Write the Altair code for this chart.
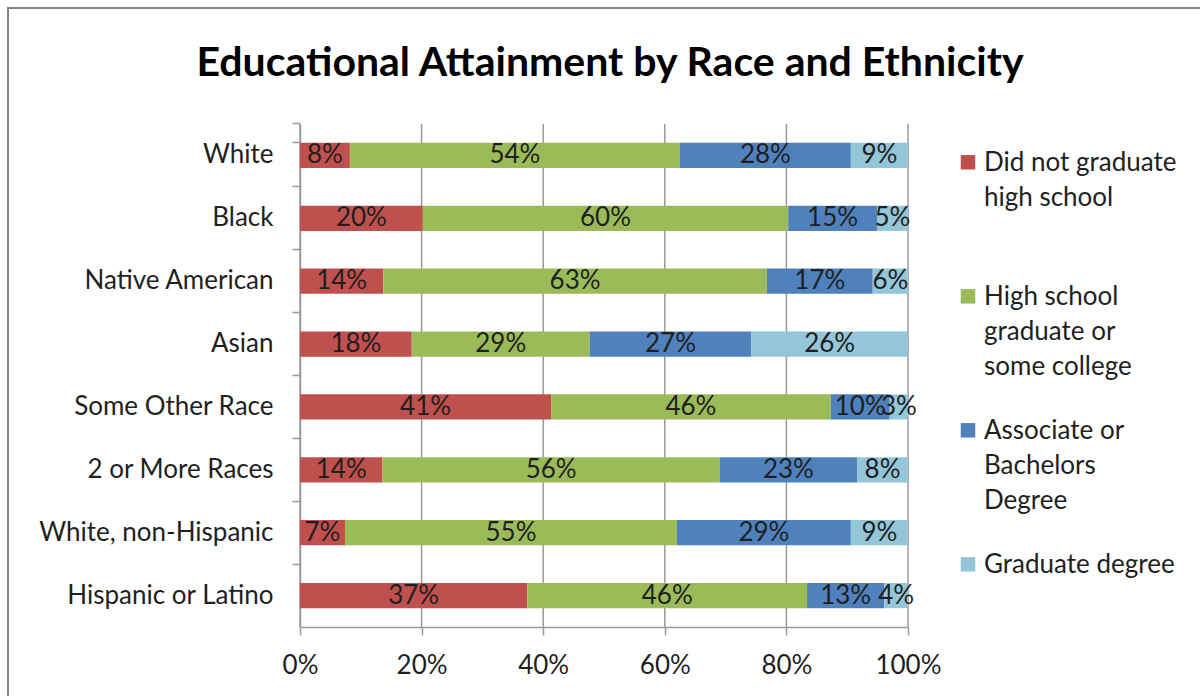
import json
import altair as alt
import pandas as pd

# ---- data ----
races = ["White", "Black", "Native American", "Asian", "Some Other Race",
         "2 or More Races", "White, non-Hispanic", "Hispanic or Latino"]
levels = ["Did not graduate high school", "High school graduate or some college",
          "Associate or Bachelors Degree", "Graduate degree"]
level_lines = [["Did not graduate", "high school"],
               ["High school", "graduate or", "some college"],
               ["Associate or", "Bachelors", "Degree"],
               ["Graduate degree"]]
no_hs = [8.2, 20.2, 13.7, 18.4, 41.3, 13.6, 7.4, 37.4]
hs_some = [54.3, 60.1, 63.1, 29.3, 46.0, 55.6, 54.6, 46.0]
assoc_bach = [28.1, 14.6, 17.4, 26.6, 9.7, 22.6, 28.6, 12.7]
grad = [9.4, 5.1, 5.8, 25.8, 3.0, 8.4, 9.4, 3.9]
x_ticks = [0, 0.2, 0.4, 0.6, 0.8, 1.0]
colors = ["#C0504D", "#9BBB59", "#4F81BD", "#93C6D8"]
title_text = "Educational Attainment by Race and Ethnicity"

rows = []
for i, r in enumerate(races):
    for j, vals in enumerate([no_hs, hs_some, assoc_bach, grad]):
        rows.append({"race": r, "level": levels[j], "order": j, "value": vals[i]})
df = pd.DataFrame(rows)
grid_df = pd.DataFrame({"tick": x_ticks, "g0": [0] * len(x_ticks), "g1": [1] * len(x_ticks)})

FONT = "Lato"
FS = 26
TXT = "#1f1f1f"
GRAY = "#9a9a9a"

label_map = json.dumps(dict(zip(levels, level_lines)))

x_scale = alt.Scale(domain=[0, 1], range=[292, 900])
y_scale = alt.Scale(domain=races, range=[116, 619], paddingInner=0.6, paddingOuter=0.3)
x_axis = alt.Axis(
    values=x_ticks, format="%", orient="bottom", offset=-81, grid=False,
    labelFlush=False, domainColor=GRAY, domainWidth=1.5, tickColor=GRAY,
    tickWidth=1.5, tickSize=8, labelFont=FONT, labelFontSize=FS, labelColor=TXT,
    labelPadding=17, title=None)

base = alt.Chart(df).transform_stack(
    stack="value", groupby=["race"], sort=[alt.SortField("order")],
    as_=["x0", "x1"], offset="normalize"
).transform_calculate(
    mid="(datum.x0 + datum.x1) / 2",
    label="format(datum.value, '.0f') + '%'"
)

grid = alt.Chart(grid_df).mark_rule(color=GRAY, strokeWidth=1.5).encode(
    x=alt.X("tick:Q", scale=x_scale, axis=x_axis),
    y=alt.Y("g0:Q", scale=alt.Scale(domain=[0, 1], range=[116, 619]), axis=None),
    y2="g1:Q",
)

bars = base.mark_bar().encode(
    x=alt.X("x0:Q", scale=x_scale, axis=x_axis),
    x2="x1:Q",
    y=alt.Y("race:N", scale=y_scale, axis=alt.Axis(
        orient="left", offset=-292, bandPosition=-0.75, tickExtra=True, tickSize=8,
        tickColor=GRAY, tickWidth=1.5, domainColor=GRAY, domainWidth=1.5,
        labelFont=FONT, labelFontSize=FS, labelColor=TXT, labelPadding=19,
        labelLimit=500, grid=False, title=None)),
    color=alt.Color("level:N", scale=alt.Scale(domain=levels, range=colors),
                    legend=alt.Legend(
                        title=None, orient="none", legendX=947, legendY=150,
                        direction="vertical", symbolType="M-1,-2.2H1V-0.2H-1Z",
                        symbolSize=210, symbolStrokeWidth=0, labelFont=FONT,
                        labelFontSize=FS, labelColor=TXT, labelBaseline="alphabetic",
                        labelLimit=500, labelOffset=3, rowPadding=38, gridAlign="all",
                        padding=0, labelExpr=f"{label_map}[datum.label]")),
)

texts = base.mark_text(font=FONT, fontSize=FS, color=TXT, baseline="middle").encode(
    x=alt.X("mid:Q", scale=x_scale, axis=x_axis),
    y=alt.Y("race:N", scale=y_scale, axis=None),
    text="label:N",
)

chart = alt.layer(grid, bars, texts).resolve_scale(y="independent").properties(
    width=1204, height=700,
    title=alt.TitleParams(title_text, font=FONT, fontSize=41, fontWeight="bold",
                          color="#000000", anchor="middle", frame="group",
                          offset=-122, baseline="alphabetic"),
    autosize=alt.AutoSizeParams(type="none"),
    padding={"left": 8, "top": 8, "right": -12, "bottom": -12},
).configure(
    background="white",
    style={"guide-label": {"lineHeight": 35}},
    view=alt.ViewConfig(stroke="#858585", strokeWidth=2, fill="white"),
)

chart.save("out.html", embed_options={"renderer": "svg", "actions": False})
